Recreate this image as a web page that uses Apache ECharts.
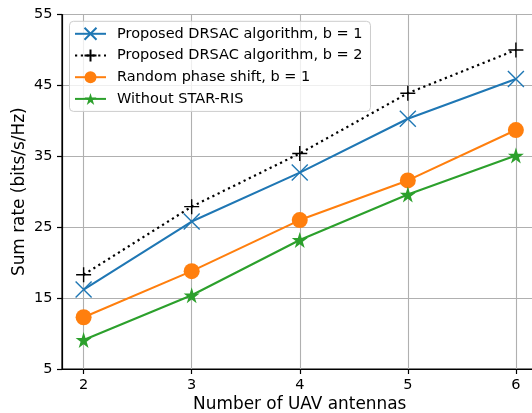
<!DOCTYPE html>
<html>
<head>
<meta charset="utf-8">
<script src="https://cdn.jsdelivr.net/npm/echarts@6/dist/echarts.min.js"></script>
<style>html,body{margin:0;padding:0;background:#fff}#c{width:532px;height:413px}</style>
</head>
<body>
<div id="c"></div>
<script>
const antennas = [2, 3, 4, 5, 6];
const drsacB1 = [16.2, 25.8, 32.7, 40.3, 45.9];
const drsacB2 = [18.3, 27.9, 35.4, 43.9, 50.0];
const randomPhase = [12.3, 18.8, 26.0, 31.6, 38.7];
const withoutRis = [9.1, 15.4, 23.2, 29.6, 35.1];
const seriesNames = ['Proposed DRSAC algorithm, b = 1', 'Proposed DRSAC algorithm, b = 2', 'Random phase shift, b = 1', 'Without STAR-RIS'];
const yTicks = [5, 15, 25, 35, 45, 55];
const xLabel = 'Number of UAV antennas';
const yLabel = 'Sum rate (bits/s/Hz)';

const FONT = 'DejaVu Sans';
const pair = arr => antennas.map((x, i) => [x, arr[i]]);
const xPath = 'path://M0,0L10,10M10,0L0,10';
const plusPath = 'path://M5,0L5,10M0,5L10,5';
const starPath = 'path://M50,0L61.23,34.55L97.55,34.55L68.17,55.9L79.39,90.45L50,69.1L20.61,90.45L31.83,55.9L2.45,34.55L38.77,34.55Z';

const chart = echarts.init(document.getElementById('c'), null, {renderer: 'canvas'});
chart.setOption({
  animation: false,
  backgroundColor: '#fff',
  grid: {left: 62, top: 14.5, right: -5.5, bottom: 44, containLabel: false, outerBoundsMode: 'none',
         show: true, borderColor: '#000', borderWidth: 1.2, backgroundColor: 'transparent'},
  legend: {
    left: 69.5, top: 21.3, orient: 'vertical',
    itemWidth: 31, itemHeight: 15, itemGap: 6.7,
    padding: [5, 8, 5, 4.5],
    borderColor: '#cccccc', borderWidth: 1, borderRadius: 4,
    backgroundColor: 'rgba(255,255,255,0.8)',
    textStyle: {fontFamily: FONT, fontSize: 14.5, color: '#000', padding: [0, 0, 0, 6]},
    data: seriesNames
  },
  xAxis: {
    type: 'value', min: 1.8, max: 6.2,
    axisLine: {show: true, onZero: false, lineStyle: {color: '#000', width: 1.2}},
    axisTick: {show: true, length: 5, customValues: antennas, lineStyle: {color: '#000', width: 1.2}},
    axisLabel: {customValues: antennas, fontFamily: FONT, fontSize: 14.5, color: '#000', margin: 8.5},
    splitLine: {show: true, lineStyle: {color: '#b0b0b0', width: 1.1}},
    name: xLabel, nameLocation: 'middle', nameGap: 27, nameMoveOverlap: false,
    nameTextStyle: {fontFamily: FONT, fontSize: 16.9, color: '#000'}
  },
  yAxis: {
    type: 'value', min: yTicks[0], max: yTicks[yTicks.length - 1], interval: 10,
    axisLine: {show: true, lineStyle: {color: '#000', width: 1.2}},
    axisTick: {show: true, length: 5, lineStyle: {color: '#000', width: 1.2}},
    axisLabel: {fontFamily: FONT, fontSize: 14.5, color: '#000', margin: 9.5},
    splitLine: {show: true, lineStyle: {color: '#b0b0b0', width: 1.1}},
    name: yLabel, nameLocation: 'middle', nameGap: 34, nameMoveOverlap: false,
    nameTextStyle: {fontFamily: FONT, fontSize: 16.9, color: '#000'}
  },
  series: [
    {
      name: seriesNames[0], type: 'line', data: pair(drsacB1),
      symbol: xPath, symbolSize: 16, z: 3,
      lineStyle: {color: '#1f77b4', width: 2.1},
      itemStyle: {color: '#1f77b4', borderColor: '#1f77b4', borderWidth: 1.4}
    },
    {
      name: seriesNames[1], type: 'line', data: pair(drsacB2),
      symbol: plusPath, symbolSize: 15, z: 4,
      lineStyle: {color: '#000', width: 2.2, type: [2.2, 3.6]},
      itemStyle: {color: '#000', borderColor: '#000', borderWidth: 1.4}
    },
    {
      name: seriesNames[2], type: 'line', data: pair(randomPhase),
      symbol: 'circle', symbolSize: 16, z: 2,
      lineStyle: {color: '#ff7f0e', width: 2.1},
      itemStyle: {color: '#ff7f0e', borderWidth: 0}
    },
    {
      name: seriesNames[3], type: 'line', data: pair(withoutRis),
      symbol: starPath, symbolSize: 16, z: 2,
      lineStyle: {color: '#2ca02c', width: 2.1},
      itemStyle: {color: '#2ca02c', borderWidth: 0}
    }
  ]
});
</script>
</body>
</html>
